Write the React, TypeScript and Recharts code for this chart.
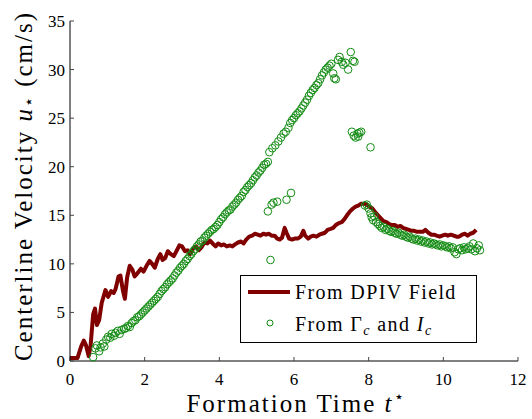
import { ComposedChart, Line, Scatter, XAxis, YAxis, Legend, Label } from 'recharts'

const serif = 'Liberation Serif, Times New Roman, DejaVu Serif, serif'
const red = '#800000'
const green = '#138c13'

const xTicks = [0, 2, 4, 6, 8, 10, 12]
const yTicks = [0, 5, 10, 15, 20, 25, 30, 35]

// [t*, u*]
const dpivField: [number, number][] = [
  [0, 0.3], [0.1, 0.3], [0.2, 0.3], [0.3, 1.5], [0.37, 2.1], [0.43, 1.6], [0.5, 0.5],
  [0.55, 1.5], [0.62, 4.8], [0.67, 5.4], [0.72, 3.7], [0.78, 4.2], [0.85, 6.0], [0.95, 7.3],
  [1.02, 6.6], [1.1, 7.2], [1.17, 7.0], [1.22, 7.4], [1.3, 8.7], [1.35, 8.8], [1.42, 7.2],
  [1.47, 6.4], [1.53, 8.6], [1.6, 9.8], [1.67, 9.4], [1.73, 8.7], [1.8, 9.0], [1.9, 9.5],
  [1.97, 9.2], [2.05, 9.8], [2.13, 10.3], [2.2, 10.0], [2.27, 9.6], [2.35, 10.5], [2.42, 11.0],
  [2.48, 10.4], [2.55, 10.6], [2.62, 11.3], [2.7, 11.0], [2.78, 10.8], [2.85, 11.3], [2.93, 11.9],
  [3.0, 11.8], [3.08, 11.3], [3.15, 11.4], [3.22, 11.0], [3.3, 11.6], [3.38, 11.8], [3.45, 11.4],
  [3.52, 11.7], [3.6, 12.2], [3.68, 12.1], [3.75, 12.4], [3.82, 12.1], [3.9, 11.8], [3.97, 12.1],
  [4.05, 11.9], [4.12, 12.0], [4.2, 11.8], [4.28, 11.9], [4.35, 11.8], [4.42, 12.0], [4.5, 12.2],
  [4.58, 12.3], [4.65, 12.1], [4.72, 12.5], [4.8, 12.8], [4.88, 12.9], [4.95, 13.1], [5.03, 13.0],
  [5.1, 12.9], [5.18, 13.1], [5.25, 13.0], [5.33, 13.1], [5.4, 12.9], [5.48, 12.9], [5.55, 12.6],
  [5.62, 12.5], [5.68, 12.7], [5.75, 13.7], [5.8, 13.2], [5.87, 12.6], [5.95, 12.5], [6.02, 12.6],
  [6.1, 12.6], [6.18, 12.8], [6.25, 13.4], [6.3, 12.9], [6.38, 12.6], [6.45, 12.8], [6.52, 12.9],
  [6.6, 12.8], [6.68, 13.0], [6.75, 13.1], [6.83, 13.2], [6.9, 13.5], [6.98, 13.6], [7.05, 13.7],
  [7.12, 14.0], [7.2, 14.2], [7.28, 14.3], [7.35, 14.6], [7.42, 15.0], [7.5, 15.4], [7.58, 15.7],
  [7.65, 15.9], [7.72, 16.0], [7.8, 16.2], [7.88, 16.2], [7.95, 16.1], [8.02, 15.9], [8.1, 15.7],
  [8.18, 15.3], [8.25, 15.0], [8.32, 14.7], [8.4, 14.4], [8.48, 14.3], [8.55, 14.1], [8.62, 14.0],
  [8.7, 14.0], [8.78, 13.8], [8.85, 13.9], [8.92, 13.7], [9.0, 13.6], [9.08, 13.5], [9.15, 13.4],
  [9.22, 13.4], [9.3, 13.3], [9.38, 13.3], [9.45, 13.3], [9.52, 13.5], [9.6, 13.2], [9.68, 13.0],
  [9.75, 13.0], [9.82, 12.9], [9.9, 12.8], [9.97, 12.9], [10.05, 13.0], [10.12, 12.9], [10.2, 13.0],
  [10.28, 12.9], [10.35, 12.8], [10.42, 12.8], [10.5, 13.0], [10.58, 13.1], [10.65, 12.9],
  [10.72, 13.1], [10.8, 13.2], [10.88, 13.5],
]

// [t*, u*] estimated from circulation and impulse
const fromGammaI: [number, number][] = [
  [0.62, 0.4], [0.68, 1.3], [0.72, 1.6], [0.78, 1.0], [0.82, 1.4], [0.88, 1.8], [0.92, 1.5],
  [0.97, 2.2], [1.02, 2.5], [1.08, 2.4], [1.12, 2.8], [1.18, 2.6], [1.22, 2.9], [1.28, 3.1],
  [1.33, 2.8], [1.38, 3.2], [1.45, 3.3], [1.5, 3.4], [1.55, 3.6], [1.6, 3.5], [1.65, 3.9],
  [1.7, 4.1], [1.75, 4.2], [1.8, 4.5], [1.85, 4.6], [1.9, 4.8], [1.95, 5.0], [2.0, 5.2],
  [2.05, 5.4], [2.1, 5.6], [2.15, 5.8], [2.2, 6.0], [2.25, 6.2], [2.3, 6.4], [2.35, 6.6],
  [2.4, 6.9], [2.45, 7.2], [2.5, 7.4], [2.55, 7.6], [2.6, 7.9], [2.65, 8.1], [2.7, 8.3],
  [2.75, 8.5], [2.8, 8.8], [2.85, 9.1], [2.9, 9.3], [2.95, 9.6], [3.0, 9.8], [3.05, 10.0],
  [3.1, 10.3], [3.15, 10.5], [3.2, 10.8], [3.25, 11.0], [3.3, 11.3], [3.35, 11.5], [3.4, 11.8],
  [3.45, 12.0], [3.5, 12.3], [3.55, 12.4], [3.6, 12.7], [3.65, 12.9], [3.7, 13.1], [3.75, 13.3],
  [3.8, 13.5], [3.85, 13.6], [3.9, 13.8], [3.95, 14.0], [4.0, 14.3], [4.05, 14.6], [4.1, 14.8],
  [4.15, 15.1], [4.2, 15.3], [4.25, 15.5], [4.3, 15.6], [4.35, 15.9], [4.4, 16.1], [4.45, 16.3],
  [4.5, 16.6], [4.55, 16.8], [4.6, 17.0], [4.65, 17.4], [4.7, 17.6], [4.75, 17.9], [4.8, 18.1],
  [4.85, 18.3], [4.9, 18.6], [4.95, 18.9], [5.0, 19.1], [5.05, 19.4], [5.1, 19.6], [5.15, 19.9],
  [5.2, 20.2], [5.25, 20.3], [5.3, 20.5], [5.34, 21.5], [5.42, 21.9], [5.5, 22.2], [5.58, 22.6],
  [5.65, 23.0], [5.72, 23.4], [5.78, 23.6], [5.85, 24.0], [5.9, 24.5], [5.95, 24.8], [6.0, 25.0],
  [6.05, 25.3], [6.1, 25.5], [6.15, 25.7], [6.2, 26.0], [6.25, 26.3], [6.3, 26.6], [6.35, 26.9],
  [6.4, 27.3], [6.45, 27.6], [6.5, 27.9], [6.55, 28.1], [6.6, 28.4], [6.65, 28.6], [6.7, 29.0],
  [6.75, 29.4], [6.8, 29.7], [6.85, 30.0], [6.9, 30.2], [6.95, 30.4], [7.0, 30.6], [7.05, 29.6],
  [7.08, 29.1], [7.12, 29.0], [7.18, 31.0], [7.22, 31.3], [7.28, 30.8], [7.32, 30.5], [7.38, 30.7],
  [7.45, 30.0], [7.52, 31.8], [7.58, 30.9], [7.62, 30.8],
  [7.55, 23.6], [7.6, 23.2], [7.65, 23.0], [7.7, 23.4], [7.75, 23.5], [7.8, 23.6], [7.72, 23.1],
  [8.05, 22.0],
  [5.3, 15.4], [5.4, 16.1], [5.45, 16.3], [5.55, 16.4], [5.8, 16.6], [5.92, 17.3], [5.37, 10.4],
  [7.9, 16.0], [7.95, 16.1], [8.0, 15.7], [8.05, 15.2], [8.08, 14.8], [8.12, 14.5], [8.15, 14.9],
  [8.2, 14.3], [8.25, 14.1], [8.3, 13.9], [8.35, 13.7], [8.4, 13.8], [8.45, 13.5], [8.5, 13.6],
  [8.55, 13.4], [8.6, 13.3], [8.65, 13.4], [8.7, 13.2], [8.75, 13.1], [8.8, 13.2], [8.85, 13.0],
  [8.9, 12.9], [8.95, 13.0], [9.0, 12.8], [9.05, 12.7], [9.1, 12.8], [9.15, 12.6], [9.2, 12.5],
  [9.25, 12.6], [9.3, 12.4], [9.35, 12.5], [9.4, 12.3], [9.45, 12.4], [9.5, 12.2], [9.55, 12.3],
  [9.6, 12.1], [9.65, 12.2], [9.7, 12.0], [9.75, 12.1], [9.8, 12.0], [9.85, 11.9], [9.9, 12.0],
  [9.95, 11.8], [10.0, 11.9], [10.05, 11.8], [10.1, 11.7], [10.15, 11.8], [10.2, 11.6],
  [10.25, 11.7], [10.3, 11.2], [10.35, 11.0], [10.4, 11.5], [10.45, 11.6], [10.5, 11.4],
  [10.55, 11.7], [10.6, 11.5], [10.65, 11.6], [10.7, 11.8], [10.75, 11.5], [10.8, 12.1],
  [10.85, 11.3], [10.9, 11.6], [10.95, 11.9], [10.98, 11.4],
]

const lineData = dpivField.map(([t, v]) => ({ t, v }))
const circleData = fromGammaI.map(([t, v]) => ({ t, v }))

const tickStyle = { fontSize: 17, fill: '#000', style: { fontFamily: serif } }

function LegendBox() {
  const txt = { fontSize: 20, letterSpacing: 1.4, fill: '#000', style: { fontFamily: serif } }
  return (
    <svg width={237} height={68} style={{ display: 'block' }}>
      <rect x={0.5} y={0.5} width={236} height={67} fill="#fff" stroke="#000" />
      <line x1={8} x2={50} y1={17} y2={17} stroke={red} strokeWidth={4} />
      <text x={55} y={24} {...txt}>From DPIV Field</text>
      <circle cx={30} cy={48} r={3} fill="none" stroke={green} />
      <text x={55} y={56} {...txt}>
        From Γ<tspan fontStyle="italic" fontSize={14} dy={4}>c</tspan>
        <tspan dy={-4}> and </tspan>
        <tspan fontStyle="italic">I</tspan>
        <tspan fontStyle="italic" fontSize={14} dy={4}>c</tspan>
      </text>
    </svg>
  )
}

function Circle(props: any) {
  return <circle cx={props.cx} cy={props.cy} r={3.8} fill="none" stroke={green} strokeWidth={1} />
}

export default function App() {
  return (
    <div style={{ position: 'absolute', left: 0, top: 0, background: '#fff', fontFamily: serif }}>
      <ComposedChart width={532} height={419} margin={{ top: 21, right: 14, left: 0, bottom: 0 }}>
        <XAxis
          type="number"
          dataKey="t"
          domain={[0, 12]}
          ticks={xTicks}
          height={58}
          tickSize={-4}
          tickMargin={16}
          tick={tickStyle}
          axisLine={{ stroke: '#000' }}
          tickLine={{ stroke: '#444' }}
        >
          <Label
            content={(p: any) => {
              const vb = p.viewBox
              return (
                <text
                  x={vb.x + vb.width / 2 + 2}
                  y={vb.y + 51}
                  textAnchor="middle"
                  fontSize={25}
                  letterSpacing={2}
                  style={{ fontFamily: serif }}
                >
                  Formation Time <tspan fontStyle="italic">t</tspan>
                  <tspan fontSize={16} dy={-10}>⋆</tspan>
                </text>
              )
            }}
          />
        </XAxis>
        <XAxis
          xAxisId="top"
          orientation="top"
          type="number"
          dataKey="t"
          domain={[0, 12]}
          ticks={xTicks}
          height={0}
          tickSize={-4}
          tick={false}
          axisLine={{ stroke: '#000' }}
          tickLine={{ stroke: '#444' }}
        />
        <YAxis
          type="number"
          domain={[0, 35]}
          ticks={yTicks}
          width={70}
          tickSize={-4}
          tickMargin={9}
          tick={tickStyle}
          axisLine={{ stroke: '#000' }}
          tickLine={{ stroke: '#444' }}
        >
          <Label
            content={(p: any) => {
              const vb = p.viewBox
              const cx = 23
              const cy = vb.y + vb.height / 2 - 5
              return (
                <text
                  x={cx}
                  y={cy}
                  transform={`rotate(-90, ${cx}, ${cy})`}
                  textAnchor="middle"
                  dominantBaseline="central"
                  fontSize={25}
                  letterSpacing={2}
                  style={{ fontFamily: serif }}
                >
                  Centerline Velocity <tspan fontStyle="italic">u</tspan>
                  <tspan fontSize={16} dy={5}>⋆</tspan>
                  <tspan dy={-5}> (cm/s)</tspan>
                </text>
              )
            }}
          />
        </YAxis>
        <YAxis
          yAxisId="right"
          orientation="right"
          type="number"
          domain={[0, 35]}
          ticks={yTicks}
          width={0}
          tickSize={-4}
          tick={false}
          axisLine={{ stroke: '#000' }}
          tickLine={{ stroke: '#444' }}
        />
        <Line
          data={lineData}
          dataKey="v"
          type="linear"
          stroke={red}
          strokeWidth={4}
          strokeLinejoin="round"
          dot={false}
          isAnimationActive={false}
        />
        <Scatter data={circleData} dataKey="v" shape={Circle} isAnimationActive={false} />
        <Legend
          layout="vertical"
          align="center"
          verticalAlign="middle"
          wrapperStyle={{ left: 240, top: 275, width: 237, height: 68 }}
          content={() => <LegendBox />}
        />
      </ComposedChart>
    </div>
  )
}
